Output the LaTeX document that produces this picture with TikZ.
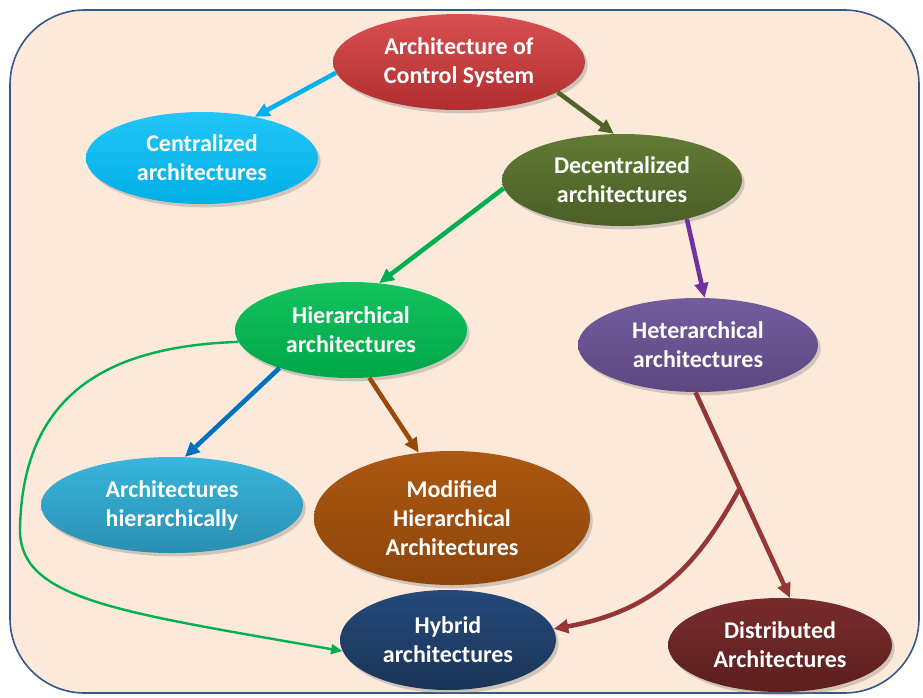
\documentclass[tikz,border=0pt]{standalone}
\usepackage{fontspec}
\setmainfont{Carlito}
\usetikzlibrary{arrows.meta,shapes.geometric,shadows}

% panel
\definecolor{panelfill}{HTML}{FCE9DA}
\definecolor{panelline}{HTML}{35588A}
% bubble gradients (top / bottom)
\definecolor{redT}{HTML}{D85050}\definecolor{redB}{HTML}{B02E30}
\definecolor{cyanT}{HTML}{22C6F8}\definecolor{cyanB}{HTML}{00AEE6}
\definecolor{oliveT}{HTML}{617A34}\definecolor{oliveB}{HTML}{4B5E27}
\definecolor{greenT}{HTML}{14C25E}\definecolor{greenB}{HTML}{00A64A}
\definecolor{purpT}{HTML}{735C9E}\definecolor{purpB}{HTML}{5C4780}
\definecolor{tealT}{HTML}{38B6DC}\definecolor{tealB}{HTML}{2A8FB2}
\definecolor{brownT}{HTML}{AB5812}\definecolor{brownB}{HTML}{8E450A}
\definecolor{navyT}{HTML}{26497B}\definecolor{navyB}{HTML}{1A3457}
\definecolor{maroonT}{HTML}{782C2C}\definecolor{maroonB}{HTML}{5C1E1E}
% connector colours
\definecolor{cLightBlue}{HTML}{00B0F0}
\definecolor{cOlive}{HTML}{4F6228}
\definecolor{cGreen}{HTML}{00B050}
\definecolor{cPurple}{HTML}{7030A0}
\definecolor{cBlue}{HTML}{0070C0}
\definecolor{cBrown}{HTML}{984807}
\definecolor{cMaroon}{HTML}{943634}

\begin{document}
\begin{tikzpicture}[x=0.75pt,y=-0.75pt,
  bubble/.style={ellipse, inner sep=0pt, align=center, text=white,
    font=\bfseries\fontsize{18}{21.75}\selectfont,
    drop shadow={opacity=0.35, shadow xshift=2pt, shadow yshift=-2.5pt}},
  dims/.style 2 args={minimum width=#1*0.75pt, minimum height=#2*0.75pt},
  tint/.style 2 args={top color=#1, bottom color=#2},
  link/.style={line width=3.4pt, -{Triangle[length=11pt,width=10pt]}},
  thinlink/.style={line width=1.8pt, -{Triangle[length=8.5pt,width=7.5pt]}}]

\useasboundingbox (0,0) rectangle (923,697);
\fill[white] (0,0) rectangle (923,697);
\draw[panelline, line width=1.2pt, fill=panelfill, rounded corners=56pt]
  (10,10) rectangle (919,693);

% nodes
\node[bubble, dims={252}{96}, tint={redT}{redB}] (root) at (459,62)
  {Architecture of\\Control System};
\node[bubble, dims={232}{92}, tint={cyanT}{cyanB}] (cen) at (202,158)
  {Centralized\\architectures};
\node[bubble, dims={240}{92}, tint={oliveT}{oliveB}] (dec) at (622,180)
  {Decentralized\\architectures};
\node[bubble, dims={232}{96}, tint={greenT}{greenB}] (hie) at (351,330)
  {Hierarchical\\architectures};
\node[bubble, dims={240}{94}, tint={purpT}{purpB}] (het) at (698,345)
  {Heterarchical\\architectures};
\node[bubble, dims={262}{96}, tint={tealT}{tealB}] (arh) at (172,505)
  {Architectures\\hierarchically};
\node[bubble, dims={276}{134}, tint={brownT}{brownB}] (mod) at (452,518)
  {Modified\\Hierarchical\\Architectures};
\node[bubble, dims={216}{100}, tint={navyT}{navyB}] (hyb) at (448,640)
  {Hybrid\\architectures};
\node[bubble, dims={224}{94}, tint={maroonT}{maroonB}] (dis) at (780,645)
  {Distributed\\Architectures};

% connectors
\draw[link, cLightBlue] (root.185) -- (cen.38);
\draw[link, cOlive] (root.-17) -- (dec.100);
\draw[link, cGreen] (dec.184) -- (hie.59);
\draw[link, cPurple] (dec.-31) -- (het.82);
\draw[link, cBlue] (hie.208) -- (arh.75);
\draw[link, cBrown] (hie.-69) -- (mod.117);
\draw[thinlink, cGreen] (hie.186)
  .. controls (120,346) and (22,385) .. (20,530)
  .. controls (20,600) and (120,612) .. (hyb.186);
\path (het.-93) -- (dis.78) coordinate[pos=0.467] (split);
\draw[link, cMaroon] (het.-93) -- (dis.78);
\draw[link, cMaroon] (split)
  .. controls (700,560) and (660,610) .. (hyb.6);

\end{tikzpicture}
\end{document}
